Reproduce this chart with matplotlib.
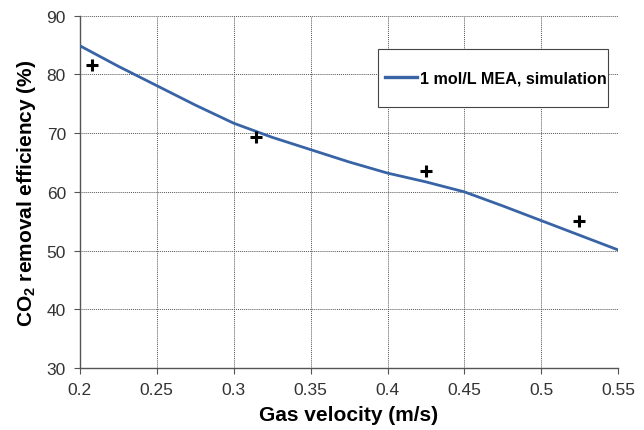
import matplotlib
matplotlib.use("Agg")
import matplotlib.pyplot as plt
from matplotlib.patches import Rectangle

plt.rcParams['font.family'] = ['Liberation Sans', 'DejaVu Sans']
plt.rcParams['mathtext.fontset'] = 'custom'
plt.rcParams['mathtext.rm'] = 'Liberation Sans:bold'
plt.rcParams['mathtext.it'] = 'Liberation Sans:bold'
plt.rcParams['mathtext.bf'] = 'Liberation Sans:bold'

sim_velocity = [0.20, 0.225, 0.25, 0.275, 0.30, 0.325, 0.35, 0.375, 0.40, 0.425, 0.45, 0.475, 0.50, 0.525, 0.55]
sim_efficiency = [84.9, 81.4, 78.1, 74.8, 71.7, 69.3, 67.2, 65.1, 63.2, 61.7, 60.0, 57.6, 55.1, 52.6, 50.1]

exp_velocity = [0.2078, 0.3145, 0.425, 0.5247]
exp_efficiency = [81.6, 69.3, 63.6, 55.1]

x_ticks = [0.2, 0.25, 0.3, 0.35, 0.4, 0.45, 0.5, 0.55]
x_tick_labels = ["0.2", "0.25", "0.3", "0.35", "0.4", "0.45", "0.5", "0.55"]
y_ticks = [30, 40, 50, 60, 70, 80, 90]

fig = plt.figure(figsize=(6.44, 4.31), dpi=100)
ax = fig.add_axes([0.124, 0.144, 0.836, 0.817])

ax.plot(sim_velocity, sim_efficiency, color='#3864a6', lw=2.0,
        label='1 mol/L MEA, simulation', zorder=3)
ax.plot(exp_velocity, exp_efficiency, linestyle='none', marker='+',
        markersize=9, markeredgewidth=2.2, color='black', zorder=4)

ax.set_xlim(0.2, 0.55)
ax.set_ylim(30, 90)
ax.set_xticks(x_ticks)
ax.set_xticklabels(x_tick_labels)
ax.set_yticks(y_ticks)

ax.grid(True, color='#555555', linestyle=(0, (1, 1)), linewidth=0.7)
ax.set_axisbelow(True)
for s in ['top', 'right']:
    ax.spines[s].set_visible(False)
for s in ['left', 'bottom']:
    ax.spines[s].set_color('#555555')
    ax.spines[s].set_linewidth(1.0)

ax.tick_params(axis='both', direction='out', length=4, color='#555555',
               labelsize=12.5, labelcolor='#333333', pad=6)

ax.set_xlabel('Gas velocity (m/s)', fontsize=15, fontweight='bold', labelpad=6)
ax.set_ylabel('CO$_2$ removal efficiency (%)', fontsize=15, fontweight='bold', labelpad=6)

# legend box
box = Rectangle((0.554, 0.741), 0.427, 0.165, transform=ax.transAxes,
                facecolor='white', edgecolor='#444444', linewidth=0.8, zorder=5)
ax.add_patch(box)
leg = ax.legend(loc='center left', bbox_to_anchor=(0.567, 0.824), frameon=False,
                prop={'weight': 'bold', 'size': 11.6},
                handlelength=2.0, handletextpad=0.15, borderpad=0,
                borderaxespad=0)
leg.set_zorder(6)
for h in leg.get_lines():
    h.set_linewidth(2.4)

fig.savefig('out.png', dpi=100)
